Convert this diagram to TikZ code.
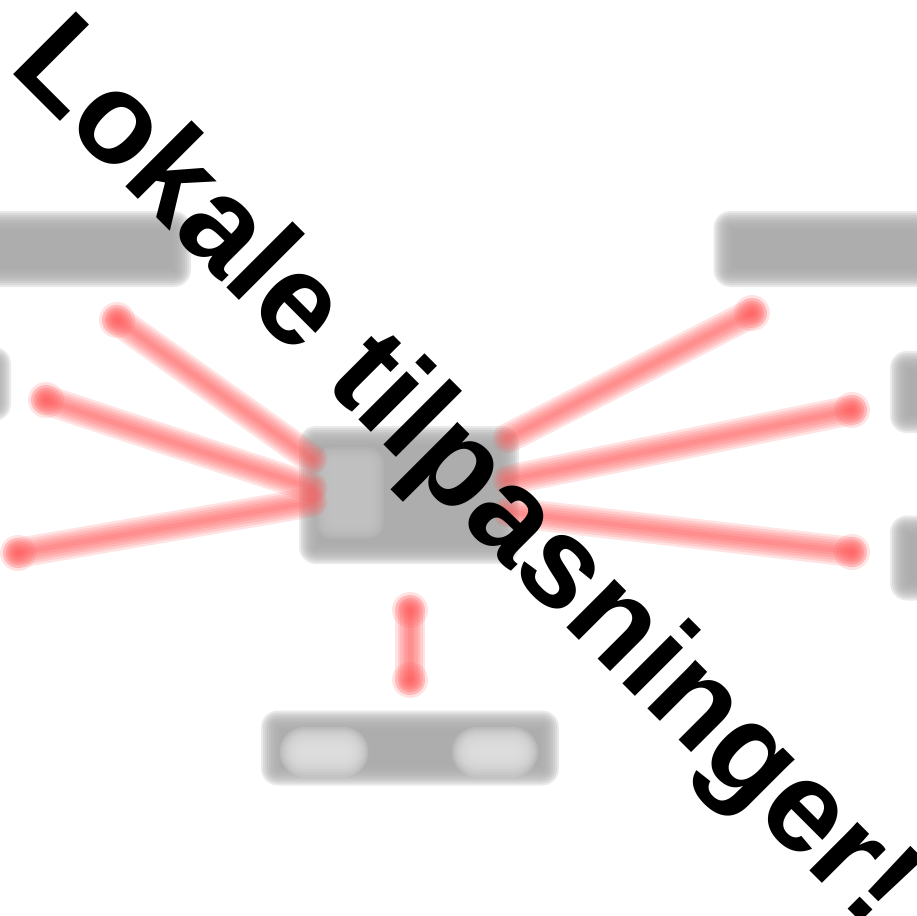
\documentclass[tikz,border=0pt]{standalone}
\usepackage{fontspec}
\setmainfont{Liberation Sans}
\definecolor{boxgray}{RGB}{170,170,170}
\definecolor{patchgray}{RGB}{196,196,196}
\definecolor{ovalgray}{RGB}{224,224,224}
\definecolor{softred}{RGB}{255,90,90}
\newcommand\softbox[3]{%
  \foreach \d in {11,9,7,5,3,1,-1,-3,-5,-7,-9}{%
    \pgfmathsetmacro\rr{max(0.5,#3+\d)}%
    \fill[#2, fill opacity=0.24, rounded corners=\rr pt]
      ([xshift=-\d pt,yshift=-\d pt]#1.south west) rectangle ([xshift=\d pt,yshift=\d pt]#1.north east);
  }}
\newcommand\softlink[2]{%
  \foreach \w in {30,25,20,15,10,5}{%
    \draw[softred, draw opacity=0.17, line width=\w pt, line cap=round] (#1) -- (#2);}}
\newcommand\softdot[1]{%
  \foreach \r in {18,15,12,9,6,3}{%
    \fill[softred, fill opacity=0.17] (#1) circle[radius=\r pt];}}
\tikzset{
  boxn/.style={draw=none, fill=none, inner sep=0pt, outer sep=0pt, minimum width=#1},
  bigtext/.style={inner sep=0pt, outer sep=0pt, text=black, font=\fontsize{129}{132}\selectfont\bfseries}
}
\begin{document}
\begin{tikzpicture}[x=1pt, y=-1pt]
\useasboundingbox (0,0) rectangle (917,915);
\clip (0,0) rectangle (917,915);
\fill[white] (0,0) rectangle (917,915);
% boxes
\node[boxn=200pt, minimum height=54pt] (tl) at (80,249) {};
\node[boxn=215pt, minimum height=54pt] (tr) at (832,249) {};
\node[boxn=94pt, minimum height=52pt] (lm) at (-47,384) {};
\node[boxn=100pt, minimum height=60pt] (rm1) at (951,392) {};
\node[boxn=100pt, minimum height=63pt] (rm2) at (951,558) {};
\node[boxn=198pt, minimum height=116pt] (c) at (409,495) {};
\node[boxn=46pt, minimum height=70pt] (cp) at (350,493) {};
\node[boxn=276pt, minimum height=53pt] (b) at (410,748) {};
\node[boxn=67pt, minimum height=28pt] (bo1) at (324,752) {};
\node[boxn=64pt, minimum height=28pt] (bo2) at (495,752) {};
\softbox{tl}{boxgray}{6}
\softbox{tr}{boxgray}{6}
\softbox{lm}{boxgray}{6}
\softbox{rm1}{boxgray}{6}
\softbox{rm2}{boxgray}{6}
\softbox{c}{boxgray}{6}
\softbox{cp}{patchgray}{6}
\softbox{b}{boxgray}{6}
\softbox{bo1}{ovalgray}{14}
\softbox{bo2}{ovalgray}{14}
% connector ports and free ends
\coordinate (cl1) at (312,459);
\coordinate (cl2) at (312,488);
\coordinate (cl3) at (312,502);
\coordinate (cr1) at (508,438);
\coordinate (cr2) at (508,480);
\coordinate (cr3) at (508,512);
\coordinate (e1) at (117,320);
\coordinate (e2) at (46,400);
\coordinate (e3) at (18,553);
\coordinate (e4) at (752,313);
\coordinate (e5) at (852,410);
\coordinate (e6) at (852,552);
\coordinate (v1) at (410,610);
\coordinate (v2) at (410,680);
\softlink{cl1}{e1}\softdot{e1}
\softlink{cl2}{e2}\softdot{e2}
\softlink{cl3}{e3}\softdot{e3}
\softlink{cr1}{e4}\softdot{e4}
\softlink{cr2}{e5}\softdot{e5}
\softlink{cr3}{e6}\softdot{e6}
\softlink{v1}{v2}\softdot{v1}\softdot{v2}
% diagonal text
\node[bigtext, anchor=base west, rotate=-45] (title) at (8,69) {Lokale tilpasninger!};
\end{tikzpicture}
\end{document}
